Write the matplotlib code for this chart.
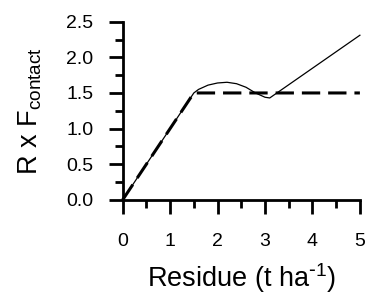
import matplotlib
matplotlib.use('Agg')
import matplotlib.pyplot as plt
from matplotlib.ticker import MultipleLocator

plt.rcParams['font.family'] = ['Liberation Sans', 'DejaVu Sans']

# modelled response (solid) and capped response (dashed)
resid_x = [0, 1.5, 1.6, 1.8, 2.0, 2.2, 2.4, 2.6, 2.8, 3.0, 3.1, 5.0]
resid_y = [0, 1.5, 1.55, 1.61, 1.64, 1.65, 1.63, 1.58, 1.50, 1.44, 1.43, 2.31]
cap_x = [0, 1.5, 5.0]
cap_y = [0, 1.5, 1.5]

fig = plt.figure(figsize=(3.65, 2.97), dpi=100)
ax = fig.add_axes([0.336, 0.327, 0.65, 0.60])

ax.plot(resid_x, resid_y, color='black', lw=0.9, clip_on=False)
ax.plot(cap_x, cap_y, color='black', lw=2.2, dashes=(6, 2.6), clip_on=False)

ax.set_xlim(0, 5)
ax.set_ylim(0, 2.5)
ax.xaxis.set_major_locator(MultipleLocator(1))
ax.xaxis.set_minor_locator(MultipleLocator(0.5))
ax.yaxis.set_major_locator(MultipleLocator(0.5))
ax.yaxis.set_minor_locator(MultipleLocator(0.25))
ax.yaxis.set_major_formatter(plt.FormatStrFormatter('%.1f'))

for s in ['top', 'right']:
    ax.spines[s].set_visible(False)
for s in ['left', 'bottom']:
    ax.spines[s].set_linewidth(2)

ax.tick_params(which='major', direction='out', length=10, width=2,
               labelsize=14, pad=11)
ax.tick_params(which='minor', direction='out', length=5.5, width=2)
ax.tick_params(axis='x', which='major', pad=14)

ax.set_xlabel('Residue (t ha$^{\\mathregular{\\text{-}1}}$)', fontsize=19.5,
              labelpad=8)
ax.set_ylabel('R x F$_{\\mathregular{contact}}$', fontsize=19.5, labelpad=16)

fig.savefig('out.png', dpi=100)
